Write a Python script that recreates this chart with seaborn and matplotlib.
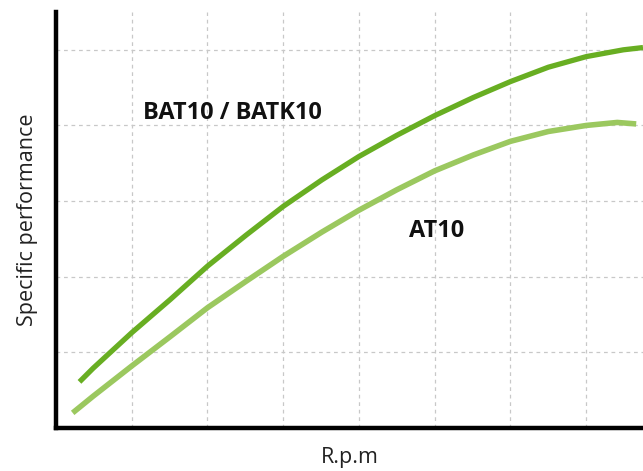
import numpy as np
import pandas as pd
import matplotlib
matplotlib.use('Agg')
import matplotlib.pyplot as plt
import seaborn as sns

# values, in grid units
rpm_bat = [0.31, 0.49, 1.0, 1.51, 2.0, 2.51, 3.0, 3.51, 4.0, 4.5, 5.0,
           5.51, 6.0, 6.5, 7.0, 7.49, 7.75]
perf_bat = [0.61, 0.79, 1.26, 1.70, 2.14, 2.55, 2.93, 3.28, 3.59, 3.87, 4.13,
            4.37, 4.58, 4.77, 4.91, 5.00, 5.03]
rpm_at = [0.22, 0.49, 1.0, 1.51, 2.0, 2.51, 3.0, 3.51, 4.0, 4.5, 5.0,
          5.51, 6.0, 6.5, 7.0, 7.41, 7.66]
perf_at = [0.20, 0.42, 0.82, 1.21, 1.59, 1.94, 2.27, 2.59, 2.88, 3.15, 3.40,
           3.61, 3.79, 3.92, 4.00, 4.04, 4.02]
x_ticks = [1, 2, 3, 4, 5, 6, 7]
y_ticks = [1, 2, 3, 4, 5]

sns.set_style('white')
plt.rcParams['font.family'] = ['Open Sans', 'DejaVu Sans']

fig = plt.figure(figsize=(6.43, 4.71), dpi=100)
ax = fig.add_axes([56 / 643, 43 / 471, 1 - 56 / 643, 416 / 471])

sns.lineplot(x=rpm_bat, y=perf_bat, ax=ax, color='#68ae22', linewidth=3.8,
             solid_capstyle='butt')
sns.lineplot(x=rpm_at, y=perf_at, ax=ax, color='#9bc85f', linewidth=4.0,
             solid_capstyle='butt')

ax.set_xlim(0, 7.75)
ax.set_ylim(0, 5.5)
ax.set_xticks(x_ticks)
ax.set_yticks(y_ticks)
ax.set_xticklabels([])
ax.set_yticklabels([])
ax.tick_params(axis='both', direction='in', color='#444444', width=1.2)
ax.tick_params(axis='y', length=9)
ax.tick_params(axis='x', length=8)
ax.grid(True, linestyle=(0, (3, 3)), color='#c8c8c8', linewidth=0.9)

for side in ['top', 'right']:
    ax.spines[side].set_visible(False)
for side in ['left', 'bottom']:
    ax.spines[side].set_color('black')
    ax.spines[side].set_linewidth(3.2)

ax.text(1.15, 4.16, 'BAT10 / BATK10', fontsize=16.9, fontweight='bold',
        va='center', ha='left', color='#111111')
ax.text(4.66, 2.61, 'AT10', fontsize=16.9, fontweight='bold',
        va='center', ha='left', color='#111111')

ax.set_xlabel('R.p.m', fontsize=15.5, color='#222222', labelpad=10)
ax.set_ylabel('Specific performance', fontsize=15.5, color='#222222', labelpad=9.5)

fig.savefig('out.png', dpi=100)
